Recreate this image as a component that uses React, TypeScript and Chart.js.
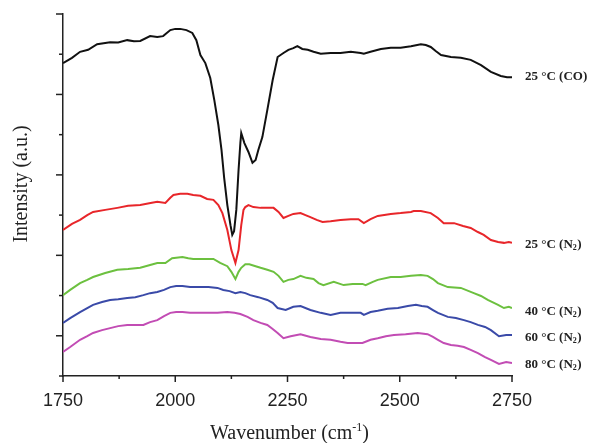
import React, { useEffect, useRef } from "react";
import { Chart, registerables } from "chart.js";

Chart.register(...registerables);

// Wavenumber tick labels (cm-1)
const xTickLabels = [1750, 2000, 2250, 2500, 2750];

// 25 °C (CO)
const coX = [1750, 1770, 1788, 1806, 1826, 1844, 1855, 1873, 1893, 1908, 1922, 1944, 1960, 1973, 1989, 2000, 2011, 2025, 2038, 2047, 2056, 2067, 2078, 2087, 2096, 2103, 2109, 2116, 2123, 2127, 2131, 2136, 2141, 2145, 2147, 2154, 2163, 2172, 2179, 2185, 2194, 2205, 2217, 2228, 2241, 2252, 2263, 2272, 2283, 2295, 2308, 2324, 2346, 2368, 2391, 2413, 2420, 2435, 2458, 2480, 2502, 2525, 2547, 2558, 2569, 2580, 2592, 2614, 2636, 2658, 2681, 2703, 2725, 2739, 2750];
const coY = [7.78, 7.91, 8.06, 8.11, 8.25, 8.28, 8.3, 8.29, 8.35, 8.32, 8.33, 8.45, 8.43, 8.45, 8.6, 8.63, 8.63, 8.6, 8.53, 8.35, 7.98, 7.78, 7.41, 6.86, 6.24, 5.62, 4.92, 4.25, 3.75, 3.51, 3.6, 4.13, 5.12, 5.79, 6.04, 5.79, 5.57, 5.3, 5.37, 5.62, 5.94, 6.61, 7.36, 7.93, 8.03, 8.11, 8.15, 8.2, 8.13, 8.11, 8.06, 8.01, 8.03, 8.03, 8.06, 8.03, 8.01, 8.06, 8.13, 8.16, 8.16, 8.2, 8.25, 8.23, 8.18, 8.08, 7.98, 7.93, 7.91, 7.86, 7.73, 7.56, 7.46, 7.43, 7.43];

// 25 °C (N2)
const n25X = [1750, 1770, 1788, 1804, 1817, 1844, 1871, 1895, 1922, 1945, 1960, 1978, 1989, 1996, 2011, 2027, 2040, 2056, 2071, 2085, 2096, 2105, 2116, 2125, 2134, 2141, 2147, 2152, 2156, 2163, 2174, 2190, 2205, 2219, 2230, 2241, 2252, 2263, 2279, 2290, 2301, 2315, 2328, 2346, 2368, 2391, 2408, 2420, 2435, 2451, 2480, 2502, 2525, 2531, 2547, 2569, 2585, 2598, 2621, 2641, 2658, 2674, 2687, 2703, 2719, 2732, 2743, 2750];
const n25Y = [3.63, 3.78, 3.88, 4.0, 4.08, 4.13, 4.18, 4.23, 4.25, 4.3, 4.33, 4.3, 4.43, 4.5, 4.53, 4.53, 4.5, 4.48, 4.4, 4.38, 4.25, 4.05, 3.63, 3.13, 2.81, 3.13, 3.75, 4.13, 4.2, 4.25, 4.2, 4.18, 4.18, 4.18, 4.08, 3.93, 3.98, 4.03, 4.05, 4.0, 3.95, 3.88, 3.83, 3.85, 3.88, 3.9, 3.9, 3.8, 3.9, 3.98, 4.03, 4.05, 4.08, 4.1, 4.1, 4.05, 3.93, 3.8, 3.8, 3.73, 3.68, 3.58, 3.51, 3.38, 3.33, 3.31, 3.33, 3.31];

// 40 °C (N2)
const n40X = [1750, 1766, 1788, 1804, 1817, 1844, 1871, 1895, 1922, 1944, 1960, 1978, 1993, 2016, 2029, 2040, 2056, 2071, 2085, 2100, 2116, 2125, 2134, 2141, 2147, 2156, 2165, 2179, 2190, 2205, 2219, 2230, 2241, 2252, 2263, 2279, 2292, 2308, 2319, 2330, 2353, 2375, 2395, 2417, 2424, 2440, 2451, 2480, 2502, 2525, 2547, 2562, 2574, 2585, 2607, 2636, 2665, 2681, 2696, 2719, 2732, 2743, 2750];
const n40Y = [2.01, 2.14, 2.31, 2.39, 2.46, 2.56, 2.64, 2.66, 2.69, 2.76, 2.81, 2.81, 2.93, 2.96, 2.93, 2.91, 2.91, 2.91, 2.91, 2.81, 2.73, 2.59, 2.41, 2.59, 2.69, 2.78, 2.78, 2.73, 2.69, 2.64, 2.59, 2.49, 2.34, 2.39, 2.41, 2.49, 2.44, 2.41, 2.31, 2.26, 2.34, 2.26, 2.29, 2.29, 2.26, 2.34, 2.39, 2.46, 2.46, 2.49, 2.51, 2.49, 2.41, 2.31, 2.21, 2.19, 2.06, 1.99, 1.89, 1.77, 1.69, 1.72, 1.69];

// 60 °C (N2)
const n60X = [1750, 1766, 1788, 1804, 1817, 1837, 1855, 1873, 1893, 1911, 1929, 1944, 1960, 1975, 1989, 2002, 2016, 2033, 2056, 2074, 2094, 2107, 2121, 2134, 2145, 2156, 2167, 2185, 2205, 2217, 2228, 2246, 2263, 2279, 2301, 2324, 2346, 2368, 2391, 2413, 2420, 2435, 2451, 2473, 2496, 2518, 2536, 2549, 2562, 2574, 2585, 2607, 2625, 2643, 2658, 2674, 2690, 2703, 2721, 2737, 2750];
const n60Y = [1.32, 1.44, 1.59, 1.69, 1.77, 1.84, 1.89, 1.91, 1.94, 1.96, 2.01, 2.06, 2.09, 2.14, 2.21, 2.24, 2.24, 2.21, 2.21, 2.21, 2.19, 2.14, 2.11, 2.06, 2.09, 2.06, 2.01, 1.96, 1.89, 1.82, 1.69, 1.64, 1.72, 1.74, 1.64, 1.57, 1.52, 1.57, 1.57, 1.57, 1.52, 1.59, 1.62, 1.67, 1.69, 1.74, 1.77, 1.74, 1.72, 1.64, 1.57, 1.47, 1.44, 1.39, 1.34, 1.27, 1.22, 1.14, 0.99, 1.02, 1.02];

// 80 °C (N2)
const n80X = [1750, 1766, 1788, 1804, 1817, 1837, 1855, 1873, 1893, 1911, 1929, 1944, 1960, 1975, 1989, 2002, 2016, 2033, 2056, 2074, 2094, 2116, 2132, 2145, 2161, 2174, 2190, 2205, 2217, 2228, 2241, 2257, 2279, 2301, 2324, 2346, 2368, 2384, 2402, 2417, 2435, 2451, 2469, 2487, 2513, 2540, 2562, 2574, 2585, 2598, 2614, 2629, 2643, 2658, 2674, 2690, 2703, 2721, 2737, 2750];
const n80Y = [0.6, 0.72, 0.9, 0.99, 1.07, 1.14, 1.19, 1.24, 1.27, 1.27, 1.27, 1.34, 1.39, 1.49, 1.57, 1.59, 1.59, 1.57, 1.57, 1.57, 1.57, 1.59, 1.57, 1.54, 1.47, 1.39, 1.32, 1.27, 1.17, 1.07, 0.94, 0.99, 1.04, 0.97, 0.92, 0.9, 0.85, 0.82, 0.82, 0.82, 0.9, 0.94, 0.99, 1.02, 1.04, 1.07, 1.04, 0.97, 0.9, 0.82, 0.77, 0.75, 0.72, 0.65, 0.57, 0.47, 0.4, 0.3, 0.35, 0.32];

const seriesNames = ["25 °C (CO)", "25 °C (N2)", "40 °C (N2)", "60 °C (N2)", "80 °C (N2)"];
const seriesColors = ["#111111", "#e8262a", "#6cc03f", "#3a4aa8", "#c24cb4"];

const pairs = (xs: number[], ys: number[]) => xs.map((x, i) => ({ x, y: ys[i] }));

const textPlugin = {
  id: "textPlugin",
  afterDraw(chart: any) {
    const ctx = chart.ctx;
    const xs = chart.scales.x;
    const ys = chart.scales.y;
    const area = chart.chartArea;
    ctx.save();
    ctx.strokeStyle = "#222";
    ctx.lineWidth = 1.5;
    // y ticks
    for (let v = 0; v <= 9; v++) {
      const py = ys.getPixelForValue(v);
      const len = v % 2 === 1 ? 7 : 4;
      ctx.beginPath();
      ctx.moveTo(area.left - len, py);
      ctx.lineTo(area.left, py);
      ctx.stroke();
    }
    // x ticks
    for (let w = 1750; w <= 2750; w += 125) {
      const px = xs.getPixelForValue(w);
      const len = (w - 1750) % 250 === 0 ? 6 : 3;
      ctx.beginPath();
      ctx.moveTo(px, area.bottom);
      ctx.lineTo(px, area.bottom + len);
      ctx.stroke();
    }
    ctx.fillStyle = "#222";
    // y title
    ctx.save();
    ctx.translate(22, 184);
    ctx.rotate(-Math.PI / 2);
    ctx.font = "20px 'Liberation Serif'";
    ctx.textAlign = "center";
    ctx.textBaseline = "middle";
    ctx.fillText("Intensity (a.u.)", 0, 0);
    ctx.restore();
    // x title
    ctx.font = "20px 'Liberation Serif'";
    const a = "Wavenumber (cm";
    const sup = "-1";
    const b = ")";
    const wa = ctx.measureText(a).width;
    const wb = ctx.measureText(b).width;
    ctx.font = "12px 'Liberation Serif'";
    const ws = ctx.measureText(sup).width;
    const total = wa + ws + wb;
    const sx = (area.left + area.right) / 2 + 2 - total / 2;
    const base = 439;
    ctx.textAlign = "left";
    ctx.textBaseline = "alphabetic";
    ctx.font = "20px 'Liberation Serif'";
    ctx.fillText(a, sx, base);
    ctx.font = "12px 'Liberation Serif'";
    ctx.fillText(sup, sx + wa, base - 8);
    ctx.font = "20px 'Liberation Serif'";
    ctx.fillText(b, sx + wa + ws, base);
    // right labels
    const labelY = [77, 245, 312, 338, 365];
    ctx.textBaseline = "middle";
    seriesNames.forEach((name, i) => {
      let lx = 525;
      const ly = labelY[i];
      const parts = name.split("N2");
      ctx.font = "bold 13px 'Liberation Serif'";
      if (parts.length === 1) {
        ctx.fillText(name, lx, ly);
      } else {
        const p1 = parts[0] + "N";
        ctx.fillText(p1, lx, ly);
        lx += ctx.measureText(p1).width;
        ctx.font = "bold 8px 'Liberation Serif'";
        ctx.fillText("2", lx, ly + 3);
        lx += ctx.measureText("2").width + 0.5;
        ctx.font = "bold 13px 'Liberation Serif'";
        ctx.fillText(parts[1], lx, ly);
      }
    });
    ctx.restore();
  },
};

export default function App() {
  const ref = useRef<HTMLCanvasElement | null>(null);
  useEffect(() => {
    if (!ref.current) return;
    const datasets = [
      pairs(coX, coY),
      pairs(n25X, n25Y),
      pairs(n40X, n40Y),
      pairs(n60X, n60Y),
      pairs(n80X, n80Y),
    ].map((data, i) => ({
      label: seriesNames[i],
      data,
      borderColor: seriesColors[i],
      borderWidth: 2,
      pointRadius: 0,
      tension: 0,
      fill: false,
    }));
    const chart = new Chart(ref.current, {
      type: "line",
      data: { datasets },
      options: {
        animation: false,
        responsive: false,
        layout: { padding: { top: 14, right: 81, left: 0, bottom: 0 } },
        plugins: { legend: { display: false }, tooltip: { enabled: false } },
        scales: {
          x: {
            type: "linear",
            min: 1750,
            max: 2750,
            afterFit: (s: any) => {
              s.height = 67;
            },
            afterBuildTicks: (s: any) => {
              s.ticks = xTickLabels.map((v) => ({ value: v }));
            },
            grid: { display: true, drawOnChartArea: false, drawTicks: false },
            border: { display: true, color: "#222", width: 1.5 },
            ticks: {
              padding: 14,
              color: "#222",
              font: { family: "'Liberation Sans'", size: 18 },
              maxRotation: 0,
              autoSkip: false,
              callback: (v: any) => String(v),
            },
          },
          y: {
            type: "linear",
            min: 0,
            max: 9,
            afterFit: (s: any) => {
              s.width = 63;
            },
            grid: { display: true, drawOnChartArea: false, drawTicks: false },
            border: { display: true, color: "#222", width: 1.5 },
            ticks: { display: false },
          },
        },
      },
      plugins: [textPlugin],
    });
    return () => chart.destroy();
  }, []);
  return (
    <div style={{ position: "absolute", left: 0, top: 0, width: 593, height: 443, background: "#fff" }}>
      <canvas ref={ref} width={593} height={443} />
    </div>
  );
}
